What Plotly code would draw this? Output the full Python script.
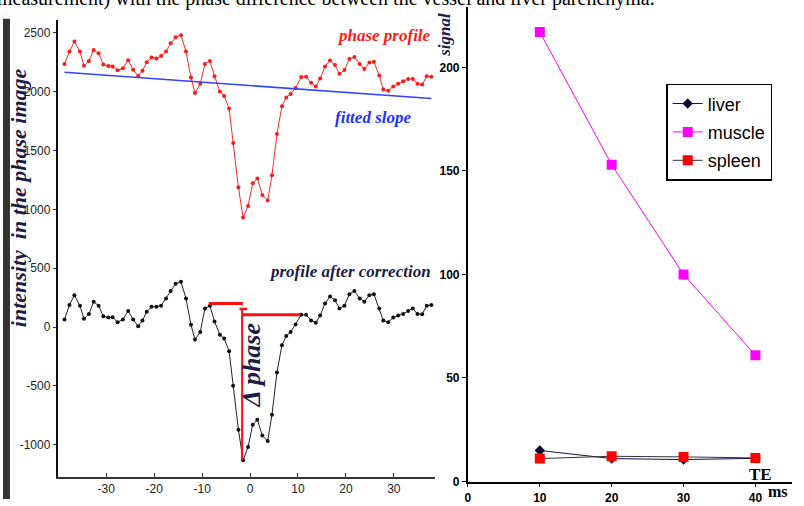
import plotly.graph_objects as go

W, H = 804, 506

# ---------------- data: left panel (phase profile) ----------------
pos = [-38.73, -37.69, -36.65, -35.49, -34.66, -33.62, -32.64, -31.60, -30.62, -29.58,
       -28.69, -27.65, -26.55, -25.43, -24.39, -23.35, -22.45, -21.56, -20.58, -19.54,
       -18.57, -17.53, -16.57, -15.53, -14.41, -13.37, -12.33, -11.50, -10.40, -9.42,
       -8.38, -7.42, -6.30, -5.41, -4.37, -3.53, -2.43, -1.46, -0.42, 0.56,
       1.52, 2.56, 3.68, 4.57, 5.61, 6.65, 7.55, 8.46, 9.50, 10.67,
       11.70, 12.74, 13.72, 14.62, 15.65, 16.69, 17.73, 18.65, 19.69, 20.73,
       21.77, 22.87, 23.85, 24.89, 25.84, 26.96, 27.80, 28.84, 29.88, 30.91,
       31.95, 32.99, 33.95, 34.93, 35.91, 36.87, 37.84]

phase_profile = [2234, 2340, 2426, 2340, 2219, 2261, 2353, 2326, 2231, 2217,
                 2214, 2181, 2198, 2267, 2186, 2133, 2178, 2250, 2290, 2281,
                 2303, 2340, 2410, 2462, 2479, 2340, 2119, 1988, 2066, 2234,
                 2261, 2131, 2002, 1963, 1857, 1564, 1187, 930, 1028, 1221,
                 1262, 1122, 1075, 1290, 1639, 1876, 1951, 1980, 2030, 2125,
                 2127, 2075, 2044, 2111, 2214, 2265, 2225, 2152, 2183, 2278,
                 2295, 2234, 2192, 2248, 2253, 2136, 2018, 2008, 2044, 2066,
                 2089, 2108, 2108, 2066, 2060, 2131, 2127]

corrected_profile = [64, 188, 271, 182, 70, 112, 215, 182, 92, 81,
                     84, 42, 64, 137, 64, 8, 56, 131, 173, 173,
                     182, 243, 307, 369, 385, 243, 20, -106, -42, 159,
                     182, 48, -64, -97, -204, -497, -871, -1131, -1019, -829,
                     -787, -921, -968, -745, -385, -153, -75, -42, 23, 104,
                     104, 56, 37, 98, 201, 260, 229, 159, 182, 280,
                     307, 243, 215, 271, 280, 159, 56, 42, 81, 98,
                     112, 137, 159, 112, 109, 182, 188]

fit_x = [-38.73, 37.84]
fit_y = [2164, 1941]

# delta-phase marker lines (data coords)
left_level_x = [-8.6, -1.5]
left_level_y = [201, 201]
right_level_x = [-1.5, 10.5]
right_level_y = [104, 104]
drop_x = [-1.66, -1.66]
drop_y = [154, -1131]
cap_x = [-2.2, -0.6]
cap_y = [154, 154]

left_xticks = [-30, -20, -10, 0, 10, 20, 30]
left_xlabels = ["-30", "-20", "-10", "0", "10", "20", "30"]
left_yticks = [-1000, -500, 0, 500, 1000, 1500, 2000, 2500]
left_ylabels = ["-1000", "-500", "0", "500", "1000", "1500", "2000", "2500"]

# ---------------- data: right panel (signal vs TE) ----------------
TE = [10, 20, 30, 40]
liver = [15.0, 11.1, 10.6, 11.2]
muscle = [217, 153, 100, 61]
spleen = [11.1, 12.2, 11.9, 11.4]
right_xticks = [0, 10, 20, 30, 40]
right_yticks = [0, 50, 100, 150, 200]

SERIF = "Liberation Serif"
SANS = "Liberation Sans"
NAVY = "#1c1c44"


def px_x(p):
    return p / W


def px_y(p):
    return 1 - p / H


fig = go.Figure()

# left panel traces
fig.add_trace(go.Scatter(x=pos, y=phase_profile, mode="lines+markers",
                         line=dict(color="#ff2a2a", width=1),
                         marker=dict(color="#ff1a1a", size=4),
                         xaxis="x", yaxis="y", showlegend=False))
fig.add_trace(go.Scatter(x=fit_x, y=fit_y, mode="lines",
                         line=dict(color="#3344ff", width=1.6),
                         xaxis="x", yaxis="y", showlegend=False))
fig.add_trace(go.Scatter(x=pos, y=corrected_profile, mode="lines+markers",
                         line=dict(color="#222222", width=1),
                         marker=dict(color="#111111", size=4),
                         xaxis="x", yaxis="y", showlegend=False))
for xs, ys, wd in [(left_level_x, left_level_y, 3), (right_level_x, right_level_y, 3),
                   (drop_x, drop_y, 2), (cap_x, cap_y, 2.5)]:
    fig.add_trace(go.Scatter(x=xs, y=ys, mode="lines",
                             line=dict(color="#ff1010", width=wd),
                             xaxis="x", yaxis="y", showlegend=False, hoverinfo="skip"))

# right panel traces
fig.add_trace(go.Scatter(x=TE, y=liver, mode="lines+markers", name="liver",
                         line=dict(color="#10104a", width=1),
                         marker=dict(color="#0a0a30", size=8, symbol="diamond"),
                         xaxis="x2", yaxis="y2", legendgroup="a"))
fig.add_trace(go.Scatter(x=TE, y=muscle, mode="lines+markers", name="muscle",
                         line=dict(color="#ff00ff", width=1),
                         marker=dict(color="#ff00ff", size=10, symbol="square"),
                         xaxis="x2", yaxis="y2", legendgroup="b"))
fig.add_trace(go.Scatter(x=TE, y=spleen, mode="lines+markers", name="spleen",
                         line=dict(color="#333333", width=1),
                         marker=dict(color="#ff0000", size=10, symbol="square"),
                         xaxis="x2", yaxis="y2", legendgroup="c"))

tickfont_l = dict(family=SANS, size=12, color="#222222")
tickfont_r = dict(family=SANS, size=12, color="#000000", weight="bold")

fig.update_layout(
    width=W, height=H,
    margin=dict(l=0, r=0, t=0, b=0),
    paper_bgcolor="white", plot_bgcolor="white",
    xaxis=dict(domain=[px_x(55), px_x(434)], range=[-40.12, 38.67], anchor="y",
               tickvals=left_xticks, ticktext=left_xlabels,
               ticks="inside", ticklen=5, tickcolor="#333",
               showline=True, linecolor="#333333", linewidth=1.5,
               showgrid=False, zeroline=False, tickfont=tickfont_l),
    yaxis=dict(domain=[px_y(484), px_y(20)], range=[-1275.5, 2610.6], anchor="x",
               tickvals=left_yticks, ticktext=left_ylabels,
               ticks="outside", ticklen=3, tickcolor="#333",
               showline=True, linecolor="#111111", linewidth=2,
               showgrid=False, zeroline=False, tickfont=tickfont_l),
    xaxis2=dict(domain=[px_x(466.7), px_x(792)], range=[0, 45.1], anchor="y2",
                tickvals=right_xticks, ticks="outside", ticklen=4, tickcolor="#000",
                showline=True, linecolor="#000000", linewidth=1.5,
                showgrid=False, zeroline=False, tickfont=tickfont_r),
    yaxis2=dict(domain=[px_y(488.3), px_y(6.7)], range=[0, 229.3], anchor="x2",
                tickvals=right_yticks, ticks="outside", ticklen=4, tickcolor="#000",
                showline=True, linecolor="#000000", linewidth=2,
                showgrid=False, zeroline=False, tickfont=tickfont_r),
    legend=dict(x=px_x(665.7), y=px_y(85), xanchor="left", yanchor="top",
                bgcolor="white", bordercolor="#000000", borderwidth=1.5,
                font=dict(family=SANS, size=18, color="#000000"),
                tracegroupgap=2, itemwidth=30),
    showlegend=True,
)


def bi(size, color):
    return dict(family=SERIF, size=size, color=color, weight="bold", style="italic")


annots = [
    # left panel texts
    dict(text="phase profile", x=38.25, y=2480, xref="x", yref="y", xanchor="right",
         yanchor="middle", showarrow=False, font=bi(17, "#ff1a1a")),
    dict(text="fitted slope", x=25.7, y=1781, xref="x", yref="y", xanchor="center",
         yanchor="middle", showarrow=False, font=bi(17, "#2233ff")),
    dict(text="profile after correction", x=38.25, y=474, xref="x", yref="y",
         xanchor="right", yanchor="middle", showarrow=False, font=bi(17, NAVY)),
    dict(text="Δ phase", x=0.3, y=-330, xref="x", yref="y", xanchor="center",
         yanchor="middle", textangle=-90, showarrow=False, font=bi(26, NAVY)),
    dict(text="intensity  in the phase image", x=px_x(15), y=px_y(200), xref="paper",
         yref="paper", xanchor="center", yanchor="middle", textangle=-90,
         showarrow=False, font=bi(22, NAVY)),
    # right panel texts
    dict(text="signal", x=px_x(443), y=px_y(35), xref="paper", yref="paper",
         xanchor="center", yanchor="middle", textangle=-90, showarrow=False,
         font=bi(17, NAVY)),
    dict(text="TE", x=40.7, y=3.6, xref="x2", yref="y2", xanchor="center",
         yanchor="middle", showarrow=False,
         font=dict(family=SERIF, size=17, color="#000", weight="bold")),
    dict(text="ms", x=px_x(777.5), y=px_y(498), xref="paper", yref="paper",
         xanchor="center", yanchor="middle", showarrow=False,
         font=dict(family=SERIF, size=16, color="#000", weight="bold")),
    # cut-off caption line at the very top
    dict(text="measurement) with the phase difference between the vessel and liver parenchyma.",
         x=px_x(656), y=px_y(12), xref="paper", yref="paper", xanchor="right",
         yanchor="bottom", showarrow=False,
         font=dict(family=SERIF, size=20, color="#000")),
]
fig.update_layout(annotations=annots)

# dark band at left edge of the scanned figure
fig.add_shape(type="rect", xref="paper", yref="paper", x0=0, x1=px_x(7),
              y0=0, y1=px_y(19), fillcolor="#333333", line=dict(width=0), layer="below")

fig.write_html("out.html", config={"displayModeBar": False},
               post_script="document.body.style.margin='0';document.body.style.overflow='hidden';")
